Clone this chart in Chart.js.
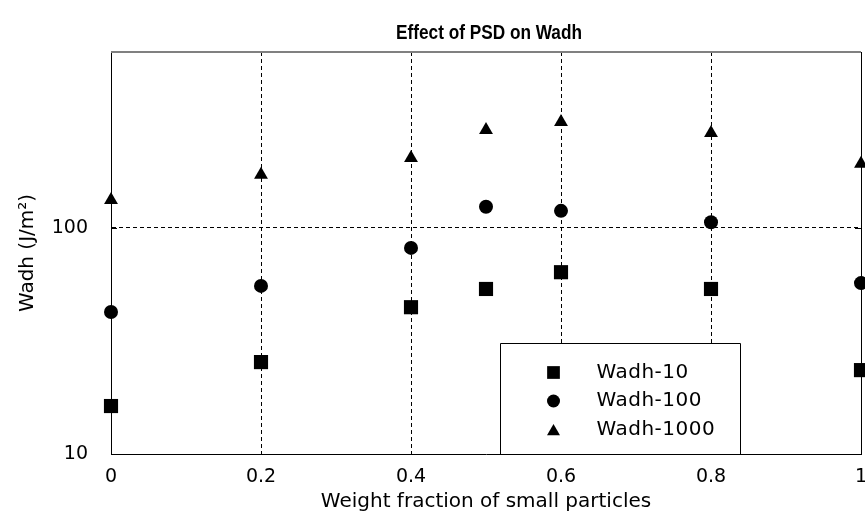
<!DOCTYPE html>
<html>
<head>
<meta charset="utf-8">
<script src="https://cdn.jsdelivr.net/npm/chart.js@4/dist/chart.umd.min.js"></script>
<style>
  html, body { margin: 0; padding: 0; background: #fff; }
  #wrap { width: 865px; height: 521px; }
</style>
</head>
<body>
<div id="wrap"><canvas id="c" width="865" height="521"></canvas></div>
<script>
// ---- data ----
const chartTitle = 'Effect of PSD on Wadh';
const xTitle = 'Weight fraction of small particles';
const yTitle = 'Wadh (J/m²)';
const xValues = [0, 0.2, 0.4, 0.5, 0.6, 0.8, 1];
const wadh10 = [16.3, 25.5, 44.6, 53.7, 63.7, 53.7, 23.5];
const wadh100 = [42.5, 55.4, 81.6, 124, 119, 106, 57];
const wadh1000 = [133, 172, 204, 271, 294, 263, 192];
const seriesLabels = ['Wadh-10', 'Wadh-100', 'Wadh-1000'];
const seriesStyles = ['rect', 'circle', 'triangle'];
const xTickValues = [0, 0.2, 0.4, 0.6, 0.8, 1];
const yTickValues = [10, 100];
const yMin = 10, yMax = 600;

const FONT = "'DejaVu Sans', 'Liberation Sans', Arial, sans-serif";
const pointRadii = { rect: 10, circle: 7, triangle: 8 };

function toPoints(arr) { return xValues.map((x, i) => ({ x: x, y: arr[i] })); }

const datasets = [wadh10, wadh100, wadh1000].map((arr, i) => ({
  label: seriesLabels[i],
  data: toPoints(arr),
  showLine: false,
  pointStyle: seriesStyles[i],
  pointRadius: pointRadii[seriesStyles[i]],
  pointHoverRadius: pointRadii[seriesStyles[i]],
  pointBackgroundColor: '#000',
  pointBorderColor: '#000',
  pointBorderWidth: 0,
  backgroundColor: '#000',
  borderColor: '#000',
  clip: false
}));

// title drawn centered over the plot area (condensed bold sans)
const titlePlugin = {
  id: 'plotTitle',
  afterDraw(chart) {
    const ctx = chart.ctx, a = chart.chartArea;
    ctx.save();
    ctx.font = "bold 21px 'Liberation Sans', Arial, sans-serif";
    ctx.fillStyle = '#000';
    ctx.textAlign = 'center';
    ctx.textBaseline = 'middle';
    const cx = (a.left + a.right) / 2 + 3;
    const w = ctx.measureText(chartTitle).width;
    const sx = Math.min(1, 186 / w);
    ctx.translate(cx, a.top - 19);
    ctx.scale(sx, 1);
    ctx.fillText(chartTitle, 0, 0);
    ctx.restore();
  }
};

// top / right frame, inward ticks, and boxed legend inside the plot
const framePlugin = {
  id: 'frame',
  afterDatasetsDraw(chart) {
    const ctx = chart.ctx, a = chart.chartArea, ys = chart.scales.y;
    ctx.save();
    ctx.strokeStyle = '#808080';
    ctx.lineWidth = 2;
    ctx.beginPath();
    ctx.moveTo(a.left, a.top);
    ctx.lineTo(a.right, a.top);
    ctx.stroke();
    ctx.strokeStyle = '#000';
    ctx.lineWidth = 1;
    ctx.beginPath();
    ctx.moveTo(a.right + 0.5, a.top);
    ctx.lineTo(a.right + 0.5, a.bottom);
    ctx.stroke();
    yTickValues.forEach(v => {
      const py = Math.round(ys.getPixelForValue(v)) + 0.5;
      ctx.beginPath();
      ctx.moveTo(a.left, py); ctx.lineTo(a.left + 6, py);
      ctx.moveTo(a.right, py); ctx.lineTo(a.right - 6, py);
      ctx.stroke();
    });
    ctx.restore();
  },
  afterDraw(chart) {
    const ctx = chart.ctx, a = chart.chartArea;
    const w = a.right - a.left;
    const left = Math.round(a.left + 0.519 * w) + 0.5;
    const right = Math.round(a.left + 0.839 * w) + 0.5;
    const top = Math.round(a.bottom - 111) + 0.5;
    const bottom = a.bottom;
    ctx.save();
    ctx.fillStyle = '#fff';
    ctx.fillRect(left, top, right - left, bottom - top);
    ctx.strokeStyle = '#000';
    ctx.lineWidth = 1;
    ctx.beginPath();
    ctx.moveTo(left, bottom); ctx.lineTo(left, top); ctx.lineTo(right, top); ctx.lineTo(right, bottom);
    ctx.stroke();
    chart.data.datasets.forEach((ds, i) => {
      const rowY = top + 29 + i * 28.5;
      ctx.fillStyle = '#000';
      ctx.strokeStyle = '#000';
      Chart.helpers.drawPoint(ctx, {
        pointStyle: ds.pointStyle,
        radius: ds.pointStyle === 'rect' ? 9 : ds.pointStyle === 'circle' ? 6.5 : 7.5,
        rotation: 0,
        borderWidth: 0
      }, left + 53, rowY + (ds.pointStyle === 'triangle' ? 2 : 0));
      ctx.font = '20px ' + FONT;
      if ('letterSpacing' in ctx) ctx.letterSpacing = '0.5px';
      ctx.textAlign = 'left';
      ctx.textBaseline = 'middle';
      ctx.fillText(ds.label, left + 96, rowY);
    });
    ctx.restore();
  }
};

new Chart(document.getElementById('c'), {
  type: 'scatter',
  data: { datasets: datasets },
  plugins: [titlePlugin, framePlugin],
  options: {
    responsive: false,
    devicePixelRatio: 1,
    animation: false,
    events: [],
    layout: { autoPadding: false, padding: { top: 52, left: 0, right: 4, bottom: 0 } },
    plugins: {
      legend: { display: false },
      title: { display: false },
      tooltip: { enabled: false }
    },
    scales: {
      x: {
        type: 'linear',
        min: 0,
        max: 1,
        afterBuildTicks: s => { s.ticks = xTickValues.map(v => ({ value: v })); },
        afterFit: s => { s.height = 67; s.paddingLeft = 0; s.paddingRight = 0; },
        ticks: {
          color: '#000',
          font: { size: 19, family: FONT },
          padding: 12,
          maxRotation: 0,
          autoSkip: false,
          callback: v => String(v)
        },
        grid: {
          drawTicks: false,
          color: c => (c.tick && (c.tick.value === 0 || c.tick.value === 1)) ? 'rgba(0,0,0,0)' : '#000',
          lineWidth: 1
        },
        border: { display: true, color: '#000', width: 1, dash: [4, 3] },
        title: {
          display: true,
          text: xTitle,
          color: '#000',
          font: { size: 20, family: FONT },
          padding: { top: 0, bottom: 7 }
        }
      },
      y: {
        type: 'logarithmic',
        min: yMin,
        max: yMax,
        afterBuildTicks: s => { s.ticks = yTickValues.map(v => ({ value: v })); },
        afterFit: s => { s.width = 111; s.paddingTop = 0; s.paddingBottom = 0; },
        ticks: {
          color: '#000',
          font: { size: 19, family: FONT },
          padding: 23,
          autoSkip: false,
          callback: v => String(v)
        },
        grid: {
          drawTicks: false,
          color: c => (c.tick && c.tick.value === yMin) ? 'rgba(0,0,0,0)' : '#000',
          lineWidth: 1
        },
        border: { display: true, color: '#000', width: 1, dash: [4, 3] },
        title: {
          display: true,
          text: yTitle,
          color: '#000',
          font: { size: 20, family: FONT },
          padding: { top: 16, bottom: 0 }
        }
      }
    }
  }
});
</script>
</body>
</html>
